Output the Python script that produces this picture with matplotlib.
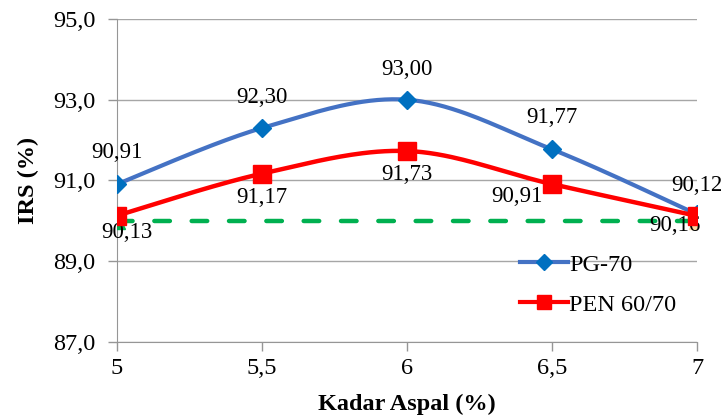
import numpy as np
import matplotlib
matplotlib.use('Agg')
import matplotlib.pyplot as plt

plt.rcParams['font.family'] = ['Liberation Serif', 'DejaVu Serif']

kadar = [5, 5.5, 6, 6.5, 7]
pg70 = [90.91, 92.30, 93.00, 91.77, 90.16]
pen6070 = [90.13, 91.17, 91.73, 90.91, 90.12]
batas = [90.0, 90.0]
batas_x = [5, 7]
y_ticks = [87, 89, 91, 93, 95]


def smooth(x, y, n=40):
    # kurva halus ala Excel (bezier dengan titik kontrol tetangga)
    x = np.asarray(x, float)
    y = np.asarray(y, float)
    px = np.concatenate([[x[0]], x, [x[-1]]])
    py = np.concatenate([[y[0]], y, [y[-1]]])
    xs, ys = [], []
    t = np.linspace(0, 1, n)
    for i in range(len(x) - 1):
        p0 = np.array([px[i + 1], py[i + 1]])
        p3 = np.array([px[i + 2], py[i + 2]])
        c1 = p0 + (np.array([px[i + 2], py[i + 2]]) - np.array([px[i], py[i]])) / 6
        c2 = p3 - (np.array([px[i + 3], py[i + 3]]) - np.array([px[i + 1], py[i + 1]])) / 6
        b = ((1 - t) ** 3)[:, None] * p0 + (3 * (1 - t) ** 2 * t)[:, None] * c1 \
            + (3 * (1 - t) * t ** 2)[:, None] * c2 + (t ** 3)[:, None] * p3
        xs.append(b[:, 0])
        ys.append(b[:, 1])
    return np.concatenate(xs), np.concatenate(ys)


fig = plt.figure(figsize=(7.27, 4.19), dpi=100)
ax = fig.add_axes([0.161, 0.1838, 0.798, 0.7709])

# garis batas 90 %
ax.plot(batas_x, batas, color='#00B050', lw=3.2, ls=(0, (3.5, 4.9)), dash_capstyle='round', zorder=2)
ax.plot([batas_x[0]], [batas[0]], marker='^', color='#00B050', ms=11, ls='none', zorder=3)
ax.plot([batas_x[1]], [batas[1]], marker='^', color='#FAD7A0', ms=11, ls='none', zorder=3)

sx, sy = smooth(kadar, pg70)
ax.plot(sx, sy, color='#4472C4', lw=3, zorder=4)
ax.plot(kadar, pg70, marker='D', color='#0070C0', ms=9, ls='none', zorder=5)
sx, sy = smooth(kadar, pen6070)
ax.plot(sx, sy, color='#FF0000', lw=3.2, zorder=4)
ax.plot(kadar, pen6070, marker='s', color='#FF0000', ms=12.5, ls='none', zorder=5)

# handle legenda
ax.plot([], [], color='#4472C4', lw=3, marker='D', mfc='#0070C0', mec='#0070C0', ms=8, label='PG-70')
ax.plot([], [], color='#FF0000', lw=3, marker='s', ms=10, label='PEN 60/70')


def fmt(v):
    return ('%.2f' % v).replace('.', ',')


off_pg = [(0, 23), (0, 22), (0, 22), (0, 23), (-16, -8)]
off_pen = [(7, -12), (0, -17), (0, -17), (-25, -9), (0, 22)]
for x, y, o in zip(kadar, pg70, off_pg):
    ax.annotate(fmt(y), (x, y), xytext=o, textcoords='offset points',
                ha='center', va='center', fontsize=16.5)
for x, y, o in zip(kadar, pen6070, off_pen):
    ax.annotate(fmt(y), (x, y), xytext=o, textcoords='offset points',
                ha='center', va='center', fontsize=16.5)

ax.set_xlim(5, 7)
ax.set_ylim(87, 95)
ax.set_xticks(kadar)
ax.set_xticklabels([str(k).replace('.', ',') for k in kadar])
ax.set_yticks(y_ticks)
ax.set_yticklabels([('%.1f' % v).replace('.', ',') for v in y_ticks])
ax.tick_params(labelsize=17.5, color='#969696', length=6.5, width=1)
ax.tick_params(axis='y', pad=9)
ax.tick_params(axis='x', pad=5)
ax.grid(axis='y', color='#A6A6A6', lw=1)
ax.set_axisbelow(True)
for s in ['top', 'right']:
    ax.spines[s].set_visible(False)
for s in ['left', 'bottom']:
    ax.spines[s].set_color('#969696')

ax.set_ylabel('IRS (%)', fontsize=17.5, fontweight='bold', labelpad=10)
ax.set_xlabel('Kadar Aspal (%)', fontsize=17.5, fontweight='bold', labelpad=11)

ax.legend(loc='upper left', bbox_to_anchor=(0.715, 0.395), bbox_transform=fig.transFigure,
          frameon=False, fontsize=17.5, borderpad=0, borderaxespad=0,
          handlelength=1.97, labelspacing=0.74, handletextpad=0.05)

fig.savefig('out.png', dpi=100)
